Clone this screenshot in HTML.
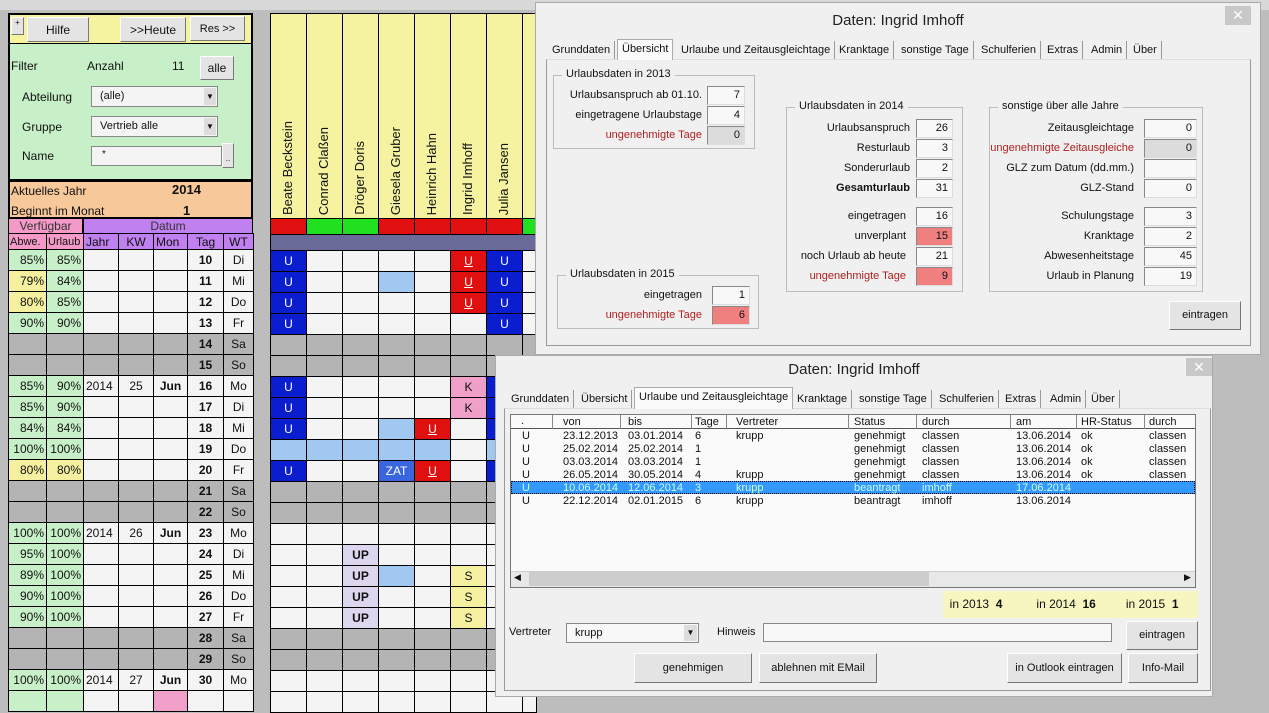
<!DOCTYPE html>
<html><head><meta charset="utf-8"><style>
*{box-sizing:border-box;margin:0;padding:0}
body{width:1269px;height:701px;overflow:hidden;background:#bdbdbd;font-family:"Liberation Sans",sans-serif;font-size:12px;color:#111;position:relative}
.a{position:absolute}
.btn{position:absolute;background:#e4e4e4;border:1px solid #fff;border-right-color:#777;border-bottom-color:#777;text-align:center;font-size:12px}
table{border-collapse:collapse;table-layout:fixed;position:absolute}
td{border:1px solid #000;height:21px;padding:0 2px;background:#f4f4f4;font-size:12px;white-space:nowrap;overflow:hidden}
tr.we td{background:#b4b4b4}
td.g{background:#c8f0c8;text-align:right}
td.y{background:#f4f0a0;text-align:right}
td.c{text-align:center}
td.b{font-weight:bold;text-align:center}
td.ub{background:#0a1ed0;color:#fff;text-align:center}
td.ur{background:#e01010;color:#fff;text-align:center;text-decoration:underline}
td.lb{background:#a0c8f0}
td.k{background:#f0a0c8;text-align:center}
td.s{background:#f4f0a0;text-align:center}
td.up{background:#dcd6ee;text-align:center;font-weight:bold}
td.zat{background:#3a66dd;color:#fff;text-align:center}
.nm{position:absolute;writing-mode:vertical-rl;transform:rotate(180deg);font-size:13px;bottom:486px;width:36px;line-height:36px;text-align:left}
.dlg{position:absolute;background:#f0f0f0;border:1px solid #aaa}
.ttl{position:absolute;font-size:15px;color:#222;text-align:center;width:100%}
.x{position:absolute;background:#c8c8c8;color:#fff;text-align:center;font-size:14px;width:26px;height:19px;line-height:19px}
.tab{position:absolute;font-size:11px;height:18px;line-height:18px;border-right:1px solid #999;padding:0 4px}
.panel{position:absolute;border:1px solid #999;border-top-color:#ddd;background:#f0f0f0}
.grp{position:absolute;border:1px solid #bbb}
.grp>span{position:absolute;top:-8px;left:8px;background:#f0f0f0;padding:0 4px;font-size:11px}
.lbl{position:absolute;font-size:11px;text-align:right;white-space:nowrap}
.red{color:#b02020}
.box{position:absolute;background:#f8f8f8;border:1px solid #888;border-right-color:#ddd;border-bottom-color:#ddd;font-size:11px;text-align:right;padding-right:4px;height:19px;line-height:17px}
.gbox{background:#dcdcdc}
.rbox{background:#f08080}
.lv{position:absolute;font-size:11px;white-space:nowrap}
</style></head><body>
<div class="a" style="left:0;top:0;width:1269px;height:10px;background:#d8d8d8"></div>
<!-- left header -->
<div class="a" style="left:8px;top:13px;width:245px;height:32px;background:#f6f3a0;border:2px solid #000"></div>
<div class="btn" style="left:11px;top:17px;width:13px;height:18px;font-size:8px">+</div>
<div class="btn" style="left:27px;top:17px;width:62px;height:25px;line-height:25px">Hilfe</div>
<div class="btn" style="left:120px;top:17px;width:66px;height:25px;line-height:25px">&gt;&gt;Heute</div>
<div class="btn" style="left:190px;top:16px;width:55px;height:25px;line-height:25px;font-size:11px">Res &gt;&gt;</div>
<div class="a" style="left:8px;top:44px;width:245px;height:137px;background:#c8f0c8;border:2px solid #000;border-top:0"></div>
<div class="a" style="left:11px;top:59px">Filter</div>
<div class="a" style="left:87px;top:59px">Anzahl</div>
<div class="a" style="left:172px;top:59px">11</div>
<div class="btn" style="left:200px;top:56px;width:34px;height:24px;line-height:22px">alle</div>
<div class="a" style="left:22px;top:90px">Abteilung</div>
<div class="a" style="left:91px;top:86px;width:127px;height:21px;background:#f4f4f4;border:1px solid #888;padding:3px 8px;font-size:11px">(alle)<span class="a" style="right:1px;top:1px;width:12px;height:17px;background:#ddd;font-size:8px;text-align:center;line-height:17px">▼</span></div>
<div class="a" style="left:22px;top:120px">Gruppe</div>
<div class="a" style="left:91px;top:116px;width:127px;height:21px;background:#f4f4f4;border:1px solid #888;padding:3px 8px;font-size:11px">Vertrieb alle<span class="a" style="right:1px;top:1px;width:12px;height:17px;background:#ddd;font-size:8px;text-align:center;line-height:17px">▼</span></div>
<div class="a" style="left:22px;top:149px">Name</div>
<div class="a" style="left:91px;top:146px;width:131px;height:20px;background:#f4f4f4;border:1px solid #888;padding:2px 10px;font-size:10px">*</div>
<div class="btn" style="left:222px;top:143px;width:12px;height:25px;font-size:8px;line-height:30px">..</div>
<div class="a" style="left:8px;top:180px;width:245px;height:39px;background:#f6c89a;border:2px solid #000;border-top-width:2px"></div>
<div class="a" style="left:11px;top:184px">Aktuelles Jahr</div>
<div class="a" style="left:172px;top:182px;font-weight:bold;font-size:13px">2014</div>
<div class="a" style="left:11px;top:204px">Beginnt im Monat</div>
<div class="a" style="left:183px;top:203px;font-weight:bold;font-size:13px">1</div>
<div class="a" style="left:8px;top:218px;width:75px;height:16px;background:#f49ac8;border:1px solid #000;text-align:center;font-size:12px;line-height:14px;color:#333">Verfügbar</div>
<div class="a" style="left:83px;top:218px;width:170px;height:16px;background:#c080f0;border:1px solid #000;text-align:center;line-height:14px;color:#333">Datum</div>
<table style="left:8px;top:233px;width:245px">
<colgroup><col style="width:38px"><col style="width:37px"><col style="width:35px"><col style="width:35px"><col style="width:34px"><col style="width:36px"><col style="width:30px"></colgroup>
<tr><td style="height:16px;background:#f49ac8;font-size:11px;padding:0 1px">Abwe.</td><td style="height:16px;background:#f49ac8;font-size:11px;padding:0 1px">Urlaub</td><td style="background:#c080f0;height:16px">Jahr</td><td class="c" style="background:#c080f0;height:16px">KW</td><td style="background:#c080f0;height:16px">Mon</td><td class="c" style="background:#c080f0;height:16px">Tag</td><td class="c" style="background:#c080f0;height:16px">WT</td></tr>
<tr><td class="g">85%</td><td class="g">85%</td><td></td><td></td><td></td><td class="b">10</td><td class="c">Di</td></tr>
<tr><td class="y">79%</td><td class="g">84%</td><td></td><td></td><td></td><td class="b">11</td><td class="c">Mi</td></tr>
<tr><td class="y">80%</td><td class="g">85%</td><td></td><td></td><td></td><td class="b">12</td><td class="c">Do</td></tr>
<tr><td class="g">90%</td><td class="g">90%</td><td></td><td></td><td></td><td class="b">13</td><td class="c">Fr</td></tr>
<tr class="we"><td></td><td></td><td></td><td></td><td></td><td class="b">14</td><td class="c">Sa</td></tr>
<tr class="we"><td></td><td></td><td></td><td></td><td></td><td class="b">15</td><td class="c">So</td></tr>
<tr><td class="g">85%</td><td class="g">90%</td><td>2014</td><td class="c">25</td><td class="b">Jun</td><td class="b">16</td><td class="c">Mo</td></tr>
<tr><td class="g">85%</td><td class="g">90%</td><td></td><td></td><td></td><td class="b">17</td><td class="c">Di</td></tr>
<tr><td class="g">84%</td><td class="g">84%</td><td></td><td></td><td></td><td class="b">18</td><td class="c">Mi</td></tr>
<tr><td class="g">100%</td><td class="g">100%</td><td></td><td></td><td></td><td class="b">19</td><td class="c">Do</td></tr>
<tr><td class="y">80%</td><td class="y">80%</td><td></td><td></td><td></td><td class="b">20</td><td class="c">Fr</td></tr>
<tr class="we"><td></td><td></td><td></td><td></td><td></td><td class="b">21</td><td class="c">Sa</td></tr>
<tr class="we"><td></td><td></td><td></td><td></td><td></td><td class="b">22</td><td class="c">So</td></tr>
<tr><td class="g">100%</td><td class="g">100%</td><td>2014</td><td class="c">26</td><td class="b">Jun</td><td class="b">23</td><td class="c">Mo</td></tr>
<tr><td class="g">95%</td><td class="g">100%</td><td></td><td></td><td></td><td class="b">24</td><td class="c">Di</td></tr>
<tr><td class="g">89%</td><td class="g">100%</td><td></td><td></td><td></td><td class="b">25</td><td class="c">Mi</td></tr>
<tr><td class="g">90%</td><td class="g">100%</td><td></td><td></td><td></td><td class="b">26</td><td class="c">Do</td></tr>
<tr><td class="g">90%</td><td class="g">100%</td><td></td><td></td><td></td><td class="b">27</td><td class="c">Fr</td></tr>
<tr class="we"><td></td><td></td><td></td><td></td><td></td><td class="b">28</td><td class="c">Sa</td></tr>
<tr class="we"><td></td><td></td><td></td><td></td><td></td><td class="b">29</td><td class="c">So</td></tr>
<tr><td class="g">100%</td><td class="g">100%</td><td>2014</td><td class="c">27</td><td class="b">Jun</td><td class="b">30</td><td class="c">Mo</td></tr>
<tr><td class="g"></td><td class="g"></td><td></td><td></td><td style="background:#f0a0c8"></td><td></td><td></td></tr>
</table>
<!-- person columns header -->
<div class="a" style="left:270px;top:13px;width:270px;height:206px;background:#f6f3a0;border:1px solid #000"></div>
<div class="a" style="left:306px;top:13px;width:1px;height:206px;background:#000"></div>
<div class="a" style="left:342px;top:13px;width:1px;height:206px;background:#000"></div>
<div class="a" style="left:378px;top:13px;width:1px;height:206px;background:#000"></div>
<div class="a" style="left:414px;top:13px;width:1px;height:206px;background:#000"></div>
<div class="a" style="left:450px;top:13px;width:1px;height:206px;background:#000"></div>
<div class="a" style="left:486px;top:13px;width:1px;height:206px;background:#000"></div>
<div class="a" style="left:522px;top:13px;width:1px;height:206px;background:#000"></div>
<div class="nm" style="left:270px;top:0">Beate Beckstein</div>
<div class="nm" style="left:306px">Conrad Claßen</div>
<div class="nm" style="left:342px">Dröger Doris</div>
<div class="nm" style="left:378px">Giesela Gruber</div>
<div class="nm" style="left:414px">Heinrich Hahn</div>
<div class="nm" style="left:450px">Ingrid Imhoff</div>
<div class="nm" style="left:486px">Julia Jansen</div>
<table style="left:270px;top:218px;width:266px">
<colgroup><col style="width:36px"><col style="width:36px"><col style="width:36px"><col style="width:36px"><col style="width:36px"><col style="width:36px"><col style="width:36px"><col style="width:14px"></colgroup>
<tr><td style="height:16px;background:#e01010"></td><td style="height:16px;background:#20e020"></td><td style="height:16px;background:#20e020"></td><td style="height:16px;background:#e01010"></td><td style="height:16px;background:#e01010"></td><td style="height:16px;background:#e01010"></td><td style="height:16px;background:#e01010"></td><td style="height:16px;background:#20e020"></td></tr>
<tr><td style="height:16px;background:#6a6a98" colspan="8"></td></tr>
<tr><td class="ub">U</td><td></td><td></td><td></td><td></td><td class="ur">U</td><td class="ub">U</td><td></td></tr>
<tr><td class="ub">U</td><td></td><td></td><td class="lb"></td><td></td><td class="ur">U</td><td class="ub">U</td><td></td></tr>
<tr><td class="ub">U</td><td></td><td></td><td></td><td></td><td class="ur">U</td><td class="ub">U</td><td></td></tr>
<tr><td class="ub">U</td><td></td><td></td><td></td><td></td><td></td><td class="ub">U</td><td></td></tr>
<tr class="we"><td></td><td></td><td></td><td></td><td></td><td></td><td></td><td></td></tr>
<tr class="we"><td></td><td></td><td></td><td></td><td></td><td></td><td></td><td></td></tr>
<tr><td class="ub">U</td><td></td><td></td><td></td><td></td><td class="k">K</td><td class="ub"></td><td></td></tr>
<tr><td class="ub">U</td><td></td><td></td><td></td><td></td><td class="k">K</td><td class="ub"></td><td></td></tr>
<tr><td class="ub">U</td><td></td><td></td><td class="lb"></td><td class="ur">U</td><td></td><td class="ub"></td><td></td></tr>
<tr><td class="lb"></td><td class="lb"></td><td class="lb"></td><td class="lb"></td><td class="lb"></td><td></td><td class="lb"></td><td></td></tr>
<tr><td class="ub">U</td><td></td><td></td><td class="zat">ZAT</td><td class="ur">U</td><td></td><td class="ub"></td><td></td></tr>
<tr class="we"><td></td><td></td><td></td><td></td><td></td><td></td><td></td><td></td></tr>
<tr class="we"><td></td><td></td><td></td><td></td><td></td><td></td><td></td><td></td></tr>
<tr><td></td><td></td><td></td><td></td><td></td><td></td><td></td><td></td></tr>
<tr><td></td><td></td><td class="up">UP</td><td></td><td></td><td></td><td></td><td></td></tr>
<tr><td></td><td></td><td class="up">UP</td><td class="lb"></td><td></td><td class="s">S</td><td></td><td></td></tr>
<tr><td></td><td></td><td class="up">UP</td><td></td><td></td><td class="s">S</td><td></td><td></td></tr>
<tr><td></td><td></td><td class="up">UP</td><td></td><td></td><td class="s">S</td><td></td><td></td></tr>
<tr class="we"><td></td><td></td><td></td><td></td><td></td><td></td><td></td><td></td></tr>
<tr class="we"><td></td><td></td><td></td><td></td><td></td><td></td><td></td><td></td></tr>
<tr><td></td><td></td><td></td><td></td><td></td><td></td><td></td><td></td></tr>
<tr><td></td><td></td><td></td><td></td><td></td><td></td><td></td><td></td></tr>
</table>

<!-- Dialog 1 -->
<div class="dlg" style="left:535px;top:2px;width:726px;height:353px">
<div class="ttl" style="top:9px">Daten: Ingrid Imhoff</div>
<div class="x" style="left:689px;top:3px">✕</div>
<div class="panel" style="left:10px;top:56px;width:705px;height:287px"></div>
<div class="tab" style="left:12px;top:38px">Grunddaten</div>
<div class="tab" style="left:81px;top:36px;background:#fafafa;height:21px;border:1px solid #aaa;border-bottom:0">Übersicht</div>
<div class="tab" style="left:141px;top:38px">Urlaube und Zeitausgleichtage</div>
<div class="tab" style="left:299px;top:38px">Kranktage</div>
<div class="tab" style="left:361px;top:38px">sonstige Tage</div>
<div class="tab" style="left:441px;top:38px">Schulferien</div>
<div class="tab" style="left:507px;top:38px">Extras</div>
<div class="tab" style="left:551px;top:38px">Admin</div>
<div class="tab" style="left:593px;top:38px">Über</div>
<div class="grp" style="left:17px;top:72px;width:202px;height:74px"><span>Urlaubsdaten in 2013</span></div>
<div class="lbl" style="left:20px;width:146px;top:86px">Urlaubsanspruch ab 01.10.</div><div class="box" style="left:171px;top:83px;width:38px">7</div>
<div class="lbl" style="left:20px;width:146px;top:106px">eingetragene Urlaubstage</div><div class="box" style="left:171px;top:103px;width:38px">4</div>
<div class="lbl red" style="left:20px;width:146px;top:126px">ungenehmigte Tage</div><div class="box gbox" style="left:171px;top:123px;width:38px">0</div>
<div class="grp" style="left:21px;top:272px;width:202px;height:54px"><span>Urlaubsdaten in 2015</span></div>
<div class="lbl" style="left:20px;width:146px;top:286px">eingetragen</div><div class="box" style="left:176px;top:283px;width:38px">1</div>
<div class="lbl red" style="left:20px;width:146px;top:306px">ungenehmigte Tage</div><div class="box rbox" style="left:176px;top:303px;width:38px">6</div>
<div class="grp" style="left:250px;top:104px;width:177px;height:185px"><span>Urlaubsdaten in 2014</span></div>
<div class="lbl" style="left:250px;width:124px;top:119px">Urlaubsanspruch</div><div class="box" style="left:380px;top:116px;width:37px">26</div>
<div class="lbl" style="left:250px;width:124px;top:139px">Resturlaub</div><div class="box" style="left:380px;top:136px;width:37px">3</div>
<div class="lbl" style="left:250px;width:124px;top:159px">Sonderurlaub</div><div class="box" style="left:380px;top:156px;width:37px">2</div>
<div class="lbl" style="left:250px;width:124px;top:179px;font-weight:bold">Gesamturlaub</div><div class="box" style="left:380px;top:176px;width:37px">31</div>
<div class="lbl" style="left:250px;width:120px;top:207px">eingetragen</div><div class="box" style="left:380px;top:204px;width:37px">16</div>
<div class="lbl" style="left:250px;width:120px;top:227px">unverplant</div><div class="box rbox" style="left:380px;top:224px;width:37px">15</div>
<div class="lbl" style="left:250px;width:120px;top:247px">noch Urlaub ab heute</div><div class="box" style="left:380px;top:244px;width:37px">21</div>
<div class="lbl red" style="left:250px;width:120px;top:267px">ungenehmigte Tage</div><div class="box rbox" style="left:380px;top:264px;width:37px">9</div>
<div class="grp" style="left:453px;top:104px;width:214px;height:185px"><span>sonstige über alle Jahre</span></div>
<div class="lbl" style="left:400px;width:198px;top:119px">Zeitausgleichtage</div><div class="box" style="left:608px;top:116px;width:53px">0</div>
<div class="lbl red" style="left:400px;width:198px;top:139px">ungenehmigte Zeitausgleiche</div><div class="box gbox" style="left:608px;top:136px;width:53px">0</div>
<div class="lbl" style="left:400px;width:198px;top:159px">GLZ zum Datum (dd.mm.)</div><div class="box" style="left:608px;top:156px;width:53px"></div>
<div class="lbl" style="left:400px;width:198px;top:179px">GLZ-Stand</div><div class="box" style="left:608px;top:176px;width:53px">0</div>
<div class="lbl" style="left:400px;width:198px;top:207px">Schulungstage</div><div class="box" style="left:608px;top:204px;width:53px">3</div>
<div class="lbl" style="left:400px;width:198px;top:227px">Kranktage</div><div class="box" style="left:608px;top:224px;width:53px">2</div>
<div class="lbl" style="left:400px;width:198px;top:247px">Abwesenheitstage</div><div class="box" style="left:608px;top:244px;width:53px">45</div>
<div class="lbl" style="left:400px;width:198px;top:267px">Urlaub in Planung</div><div class="box" style="left:608px;top:264px;width:53px">19</div>
<div class="btn" style="left:633px;top:298px;width:72px;height:29px;line-height:27px;font-size:11px">eintragen</div>
</div>

<!-- Dialog 2 -->
<div class="dlg" style="left:495px;top:355px;width:718px;height:342px">
<div class="ttl" style="top:5px">Daten: Ingrid Imhoff</div>
<div class="x" style="left:690px;top:2px;height:18px">✕</div>
<div class="panel" style="left:8px;top:52px;width:707px;height:283px"></div>
<div class="tab" style="left:11px;top:34px">Grunddaten</div>
<div class="tab" style="left:81px;top:34px">Übersicht</div>
<div class="tab" style="left:138px;top:31px;background:#fafafa;height:22px;border:1px solid #aaa;border-bottom:0">Urlaube und Zeitausgleichtage</div>
<div class="tab" style="left:297px;top:34px">Kranktage</div>
<div class="tab" style="left:359px;top:34px">sonstige Tage</div>
<div class="tab" style="left:439px;top:34px">Schulferien</div>
<div class="tab" style="left:505px;top:34px">Extras</div>
<div class="tab" style="left:550px;top:34px">Admin</div>
<div class="tab" style="left:591px;top:34px">Über</div>
<div class="a" style="left:14px;top:58px;width:686px;height:174px;background:#fafafa;border:1px solid #777"></div>
<div class="a" style="left:15px;top:59px;width:684px;height:14px;border-bottom:1px solid #555"></div>
<div class="a" style="left:56px;top:59px;width:1px;height:14px;background:#888"></div>
<div class="a" style="left:124px;top:59px;width:1px;height:14px;background:#888"></div>
<div class="a" style="left:195px;top:59px;width:1px;height:14px;background:#888"></div>
<div class="a" style="left:230px;top:59px;width:1px;height:14px;background:#888"></div>
<div class="a" style="left:352px;top:59px;width:1px;height:14px;background:#888"></div>
<div class="a" style="left:420px;top:59px;width:1px;height:14px;background:#888"></div>
<div class="a" style="left:514px;top:59px;width:1px;height:14px;background:#888"></div>
<div class="a" style="left:580px;top:59px;width:1px;height:14px;background:#888"></div>
<div class="a" style="left:648px;top:59px;width:1px;height:14px;background:#888"></div>
<div class="lv" style="left:25px;top:59px">.</div><div class="lv" style="left:67px;top:60px">von</div><div class="lv" style="left:132px;top:60px">bis</div><div class="lv" style="left:199px;top:60px">Tage</div><div class="lv" style="left:240px;top:60px">Vertreter</div><div class="lv" style="left:358px;top:60px">Status</div><div class="lv" style="left:426px;top:60px">durch</div><div class="lv" style="left:520px;top:60px">am</div><div class="lv" style="left:585px;top:60px">HR-Status</div><div class="lv" style="left:653px;top:60px">durch</div>
<div class="a" style="left:15px;top:125px;width:684px;height:13px;background:#3399ff;border:1px dotted #000"></div>
<div class="lv" style="left:26px;top:74px;line-height:13px">U<br>U<br>U<br>U<br><span style="color:#cfe">U</span><br>U</div>
<div class="lv" style="left:67px;top:74px;line-height:13px">23.12.2013<br>25.02.2014<br>03.03.2014<br>26.05.2014<br><span style="color:#cfe">10.06.2014</span><br>22.12.2014</div>
<div class="lv" style="left:132px;top:74px;line-height:13px">03.01.2014<br>25.02.2014<br>03.03.2014<br>30.05.2014<br><span style="color:#cfe">12.06.2014</span><br>02.01.2015</div>
<div class="lv" style="left:199px;top:74px;line-height:13px">6<br>1<br>1<br>4<br><span style="color:#cfe">3</span><br>6</div>
<div class="lv" style="left:240px;top:74px;line-height:13px">krupp<br>&nbsp;<br>&nbsp;<br>krupp<br><span style="color:#cfe">krupp</span><br>krupp</div>
<div class="lv" style="left:358px;top:74px;line-height:13px">genehmigt<br>genehmigt<br>genehmigt<br>genehmigt<br><span style="color:#cfe">beantragt</span><br>beantragt</div>
<div class="lv" style="left:426px;top:74px;line-height:13px">classen<br>classen<br>classen<br>classen<br><span style="color:#cfe">imhoff</span><br>imhoff</div>
<div class="lv" style="left:520px;top:74px;line-height:13px">13.06.2014<br>13.06.2014<br>13.06.2014<br>13.06.2014<br><span style="color:#cfe">17.06.2014</span><br>13.06.2014</div>
<div class="lv" style="left:585px;top:74px;line-height:13px">ok<br>ok<br>ok<br>ok</div>
<div class="lv" style="left:653px;top:74px;line-height:13px">classen<br>classen<br>classen<br>classen</div>
<div class="a" style="left:15px;top:215px;width:684px;height:16px;background:#e8e8e8;border-top:1px solid #ccc"></div>
<div class="a" style="left:33px;top:216px;width:400px;height:14px;background:#cdcdcd"></div>
<div class="a" style="left:18px;top:216px;font-size:9px">◀</div>
<div class="a" style="left:688px;top:216px;font-size:9px">▶</div>
<div class="a" style="left:447px;top:235px;width:255px;height:27px;background:#f8f6c0;font-size:12px;line-height:27px;white-space:nowrap">&nbsp;&nbsp;in 2013 &nbsp;<b>4</b><span style="margin-left:34px">in 2014 &nbsp;<b>16</b></span><span style="margin-left:30px">in 2015 &nbsp;<b>1</b></span></div>
<div class="a" style="left:13px;top:270px;font-size:11px">Vertreter</div>
<div class="a" style="left:70px;top:267px;width:133px;height:20px;background:#f8f8f8;border:1px solid #888;font-size:11px;padding:3px 8px">krupp<span class="a" style="right:1px;top:1px;width:13px;height:16px;background:#ddd;font-size:8px;text-align:center;line-height:16px">▼</span></div>
<div class="a" style="left:221px;top:270px;font-size:11px">Hinweis</div>
<div class="a" style="left:267px;top:267px;width:349px;height:19px;background:#f8f8f8;border:1px solid #888"></div>
<div class="btn" style="left:630px;top:265px;width:72px;height:29px;line-height:27px;font-size:11px">eintragen</div>
<div class="btn" style="left:138px;top:297px;width:118px;height:30px;line-height:28px;font-size:11px">genehmigen</div>
<div class="btn" style="left:263px;top:297px;width:118px;height:30px;line-height:28px;font-size:11px">ablehnen mit EMail</div>
<div class="btn" style="left:511px;top:297px;width:115px;height:30px;line-height:28px;font-size:11px">in Outlook eintragen</div>
<div class="btn" style="left:632px;top:297px;width:70px;height:30px;line-height:28px;font-size:11px">Info-Mail</div>
</div>
</body></html>
